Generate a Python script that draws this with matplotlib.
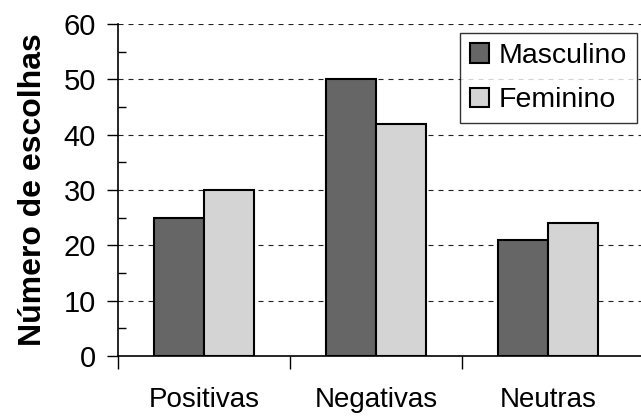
import matplotlib.pyplot as plt
import numpy as np

categorias = ["Positivas", "Negativas", "Neutras"]
masculino = [25, 50, 21]
feminino = [30, 42, 24]
series = ["Masculino", "Feminino"]

plt.rcParams['font.family'] = ['Liberation Sans', 'DejaVu Sans']

fig = plt.figure(figsize=(6.41, 4.16), dpi=100)
ax = fig.add_axes([118/641, 60/416, (641-118)/641, (356-24)/416])

x = np.arange(len(categorias))
largura = 0.29
ax.bar(x - largura/2, masculino, largura, color="#666666", edgecolor="black",
       linewidth=1.5, label=series[0], zorder=3)
ax.bar(x + largura/2, feminino, largura, color="#d4d4d4", edgecolor="black",
       linewidth=1.5, label=series[1], zorder=3)

ax.set_xlim(-0.5, 2.54)
ax.set_ylim(0, 60)

# eixo y: principais para fora, secundários para dentro
ax.set_yticks(range(0, 61, 10))
ax.set_yticks(range(5, 60, 10), minor=True)
ax.tick_params(axis="y", which="major", direction="out", length=8, width=1,
               labelsize=21, pad=8)
ax.tick_params(axis="y", which="minor", direction="in", length=6, width=1)

# eixo x: marcas entre as categorias, rótulos no centro
ax.set_xticks([-0.5, 0.5, 1.5])
ax.set_xticklabels([])
ax.set_xticks(x, minor=True)
ax.set_xticklabels(categorias, minor=True)
ax.tick_params(axis="x", which="major", direction="out", length=9, width=1)
ax.tick_params(axis="x", which="minor", length=0, labelsize=20, pad=22)

ax.yaxis.grid(True, linestyle=(0, (4.5, 4.5)), color="#222222", linewidth=0.8,
              zorder=0)
ax.set_axisbelow(True)

for lado in ["top", "right"]:
    ax.spines[lado].set_visible(False)
ax.spines["left"].set_linewidth(1.2)
ax.spines["bottom"].set_linewidth(1.2)

ax.set_ylabel("Número de escolhas", fontsize=23, fontweight="bold", labelpad=11)

leg = ax.legend(loc="upper right", bbox_to_anchor=(0.993, 0.973), fontsize=20.5,
                frameon=True, fancybox=False, handlelength=0.68, handleheight=0.68,
                handletextpad=0.35, borderpad=0.35, labelspacing=0.65,
                borderaxespad=0)
leg.get_frame().set_edgecolor("black")
leg.get_frame().set_linewidth(1)
leg.set_zorder(5)

fig.savefig("out.png", dpi=100)
